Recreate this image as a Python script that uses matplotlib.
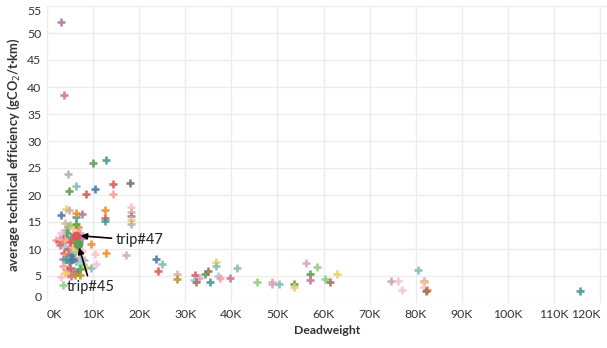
import numpy as np
import matplotlib.pyplot as plt

plt.rcParams['font.family'] = ['Lato', 'DejaVu Sans']

# deadweight (thousand t), efficiency, colour for each trip
dwt = [3.0, 3.7, 10.0, 12.8, 4.6, 4.7, 6.3, 8.5, 10.4, 14.4, 14.4, 18.0,
       12.6, 12.6, 12.6, 18.2, 18.2, 18.2, 18.2, 18.2, 12.8, 17.2,
       23.6, 24.9, 24.0, 28.3, 28.3, 32.2, 32.0, 33.0, 32.4, 34.2, 34.9, 35.4,
       36.7, 36.7, 37.0, 37.5, 39.8, 41.2, 45.6, 48.8, 48.8, 50.4, 53.5, 53.5,
       56.1, 58.6, 57.0, 57.0, 60.3, 61.5, 63.0, 74.6, 76.2, 77.1, 80.4, 81.7,
       81.7, 81.7, 82.4, 82.2, 115.7,
       2.0, 2.5, 3.0, 3.3, 2.8, 3.5, 4.0, 3.8, 4.6, 4.2, 5.0, 5.6, 4.4, 5.2,
       3.9, 4.5, 5.0, 5.5, 6.0, 6.8, 7.2, 3.6, 4.2, 4.8, 5.4, 6.0, 6.6, 7.5,
       3.4, 4.0, 4.7, 5.2, 6.2, 6.9, 7.8, 8.5, 9.6, 10.7, 10.4, 9.6, 3.5,
       4.3, 5.0, 5.8, 6.5, 7.2, 4.6, 5.3, 6.0, 4.0, 3.1, 3.5, 7.0, 8.0, 5.8,
       4.9, 7.7, 3.0, 6.4, 6.4, 7.6, 6.4, 3.1, 4.2, 4.7, 4.1, 5.7, 7.2, 7.5]
eff = [52.0, 38.5, 25.9, 26.5, 23.9, 20.8, 21.7, 20.2, 21.1, 22.0, 20.2, 22.3,
       17.2, 15.7, 15.1, 17.7, 16.9, 16.2, 15.4, 14.6, 9.2, 8.8,
       8.1, 7.3, 5.9, 5.4, 4.4, 5.2, 4.3, 4.7, 3.8, 5.4, 5.9, 3.8,
       7.6, 6.9, 5.0, 4.7, 4.7, 6.4, 3.9, 3.8, 3.5, 3.5, 3.6, 3.0,
       7.5, 6.7, 5.3, 4.3, 4.4, 3.9, 5.3, 4.1, 4.1, 2.4, 6.1, 4.1,
       3.8, 3.0, 2.5, 2.2, 2.2,
       11.7, 11.5, 11.9, 11.2, 10.8, 12.4, 11.8, 14.8, 14.1, 13.5, 14.5, 13.8,
       12.9, 12.2, 10.4, 10.0, 10.6, 11.6, 13.2, 14.1, 13.0, 9.3, 8.8, 9.1,
       8.9, 9.5, 10.2, 9.6, 8.2, 7.9, 7.6, 7.9, 7.7, 7.4, 7.1, 6.7, 6.4, 7.3,
       9.1, 11.0, 6.8, 6.2, 6.5, 6.0, 5.8, 6.3, 5.3, 5.0, 5.1, 5.6, 4.9, 3.3,
       8.4, 8.0, 10.3, 11.3, 12.0, 13.0, 16.0, 16.6, 16.4, 14.6, 16.3, 17.4,
       17.2, 8.1, 8.1, 5.2, 8.0]
colors = ['#b07aa1', '#d37295', '#59a14f', '#499894', '#bab0ac', '#59a14f',
          '#86bcb6', '#e15759', '#4e79a7', '#e15759', '#ff9d9a', '#79706e',
          '#f28e2b', '#e15759', '#499894', '#fabfd2', '#d7b5a6', '#b07aa1',
          '#f1ce63', '#bab0ac', '#f28e2b', '#d4a6c8',
          '#4e79a7', '#86bcb6', '#e15759', '#d7b5a6', '#b6992d', '#e15759',
          '#a0cbe8', '#d4a6c8', '#9d7660', '#59a14f', '#9d7660', '#499894',
          '#f1ce63', '#86bcb6', '#a0cbe8', '#ff9d9a', '#d37295', '#86bcb6',
          '#8cd17d', '#ff9d9a', '#d4a6c8', '#86bcb6', '#59a14f', '#f1ce63',
          '#d4a6c8', '#8cd17d', '#59a14f', '#d37295', '#8cd17d', '#9d7660',
          '#f1ce63', '#bab0ac', '#fabfd2', '#fabfd2', '#86bcb6', '#bab0ac',
          '#ffbe7d', '#fabfd2', '#f28e2b', '#9d7660', '#499894',
          '#ff9d9a', '#e15759', '#fabfd2', '#f28e2b', '#d37295', '#79706e',
          '#ff9d9a', '#d7b5a6', '#f28e2b', '#86bcb6', '#8cd17d', '#ffbe7d',
          '#59a14f', '#499894', '#a0cbe8', '#9d7660', '#ff9d9a', '#b6992d',
          '#fabfd2', '#f28e2b', '#d4a6c8', '#e15759', '#f1ce63', '#d37295',
          '#4e79a7', '#8cd17d', '#ff9d9a', '#fabfd2', '#b07aa1', '#86bcb6',
          '#499894', '#4e79a7', '#59a14f', '#a0cbe8', '#8cd17d', '#f1ce63',
          '#86bcb6', '#fabfd2', '#fabfd2', '#f28e2b', '#ff9d9a', '#d37295',
          '#e15759', '#b07aa1', '#9d7660', '#59a14f', '#ff9d9a', '#d37295',
          '#b6992d', '#f1ce63', '#fabfd2', '#8cd17d', '#d7b5a6', '#bab0ac',
          '#ffbe7d', '#e15759', '#b07aa1', '#fabfd2', '#499894', '#f28e2b',
          '#b07aa1', '#59a14f', '#4e79a7', '#f1ce63', '#d4a6c8', '#499894',
          '#4e79a7', '#b6992d', '#a0cbe8']

# highlighted trips
hl_name = ['trip#47', 'trip#45']
hl_x = [6.4, 6.7]
hl_y = [12.5, 11.0]
hl_col = ['#e15759', '#59a14f']
hl_text_xy = [(14.9, 11.6), (4.3, 3.0)]

xticks = np.arange(0, 121, 10)
yticks = np.arange(0, 56, 5)

fig = plt.figure(figsize=(6.07, 3.48), dpi=100)
ax = fig.add_axes([47/607, 45/348, 560/607, 297/348])

for x, y, c in zip(dwt, eff, colors):
    ax.plot(x, y, '+', color=c, markersize=5.5, markeredgewidth=1.9, alpha=0.9)

for x, y, c in zip(hl_x, hl_y, hl_col):
    ax.plot(x, y, 'o', color=c, markersize=6, zorder=5)

for name, x, y, (tx, ty) in zip(hl_name, hl_x, hl_y, hl_text_xy):
    ax.annotate(name, xy=(x, y), xytext=(tx, ty), fontsize=10.5, color='#222222',
                va='center', ha='left',
                arrowprops=dict(arrowstyle='-|>', color='black', lw=1.2,
                                shrinkA=1, shrinkB=3, mutation_scale=9),
                zorder=6)

ax.set_xlim(0, 121.5)
ax.set_ylim(0, 55)
ax.set_xticks(xticks)
ax.set_xticklabels([f'{t}K' for t in xticks])
ax.set_yticks(yticks)
ax.set_yticklabels([str(t) for t in yticks])
ax.tick_params(length=0, labelsize=8.8, colors='#333333', pad=4)

xl = ax.get_xticklabels()
xl[0].set_ha('left')
xl[-1].set_ha('right')
yl = ax.get_yticklabels()
yl[0].set_va('bottom')
yl[-1].set_va('top')

ax.grid(True, color='#ececec', linewidth=1)
ax.set_axisbelow(True)
for s in ax.spines.values():
    s.set_visible(False)

ax.set_xlabel('Deadweight', fontsize=8.8, fontweight='bold', color='#333333', labelpad=4)
ax.set_ylabel('average technical efficiency (gCO$_2$/t·km)', fontsize=9.3,
              fontweight='bold', color='#333333', labelpad=4)

fig.savefig('out.png', dpi=100)
